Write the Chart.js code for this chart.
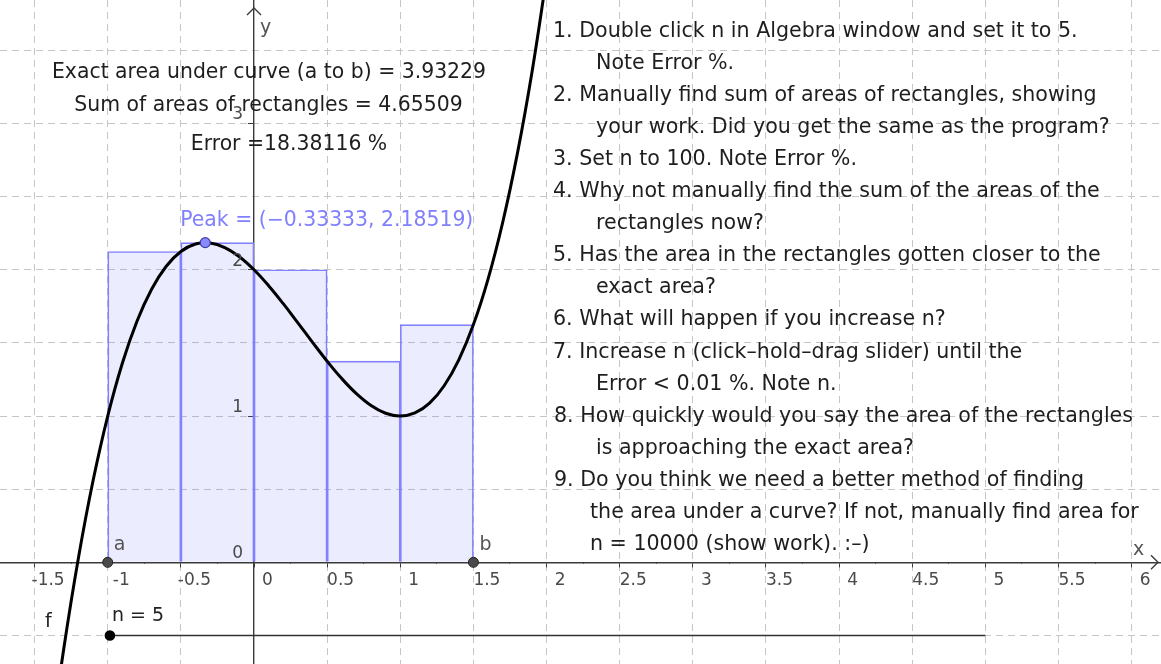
<!DOCTYPE html>
<html>
<head>
<meta charset="utf-8">
<script src="https://cdn.jsdelivr.net/npm/chart.js@4.4.1/dist/chart.umd.min.js"></script>
<style>
  html, body { margin: 0; padding: 0; background: #fff; }
  #wrap { width: 1161px; height: 664px; position: relative; }
</style>
</head>
<body>
<div id="wrap"><canvas id="riemann"></canvas></div>
<script>
// f(x), every 0.1 from -1.4 to 2
const curveX = [-1.4, -1.3, -1.2, -1.1, -1, -0.9, -0.8, -0.7, -0.6, -0.5, -0.4, -0.3, -0.2, -0.1, 0,
  0.1, 0.2, 0.3, 0.4, 0.5, 0.6, 0.7, 0.8, 0.9, 1, 1.1, 1.2, 1.3, 1.4, 1.5, 1.6, 1.7, 1.8, 1.9, 2];
const curveY = [-1.304, -0.587, 0.032, 0.559, 1, 1.361, 1.648, 1.867, 2.024, 2.125, 2.176, 2.183, 2.152, 2.089, 2,
  1.891, 1.768, 1.637, 1.504, 1.375, 1.256, 1.153, 1.072, 1.019, 1, 1.021, 1.088, 1.207, 1.384, 1.625, 1.936, 2.323, 2.792, 3.349, 4];

// upper sum rectangles, n = 5
const rectMid = [-0.75, -0.25, 0.25, 0.75, 1.25];
const rectHeight = [2.125, 2.18519, 2, 1.375, 1.625];

const endX = [-1, 1.5];
const endLabels = ["a", "b"];
const peak = [-0.33333, 2.18519];

const sliderX = [-0.985, 5];
const sliderY = [-0.5, -0.5];

const xTicks = [-1.5, -1, -0.5, 0, 0.5, 1, 1.5, 2, 2.5, 3, 3.5, 4, 4.5, 5, 5.5, 6];
const xTickLabels = ["-1.5", "-1", "-0.5", "0", "0.5", "1", "1.5", "2", "2.5", "3", "3.5", "4", "4.5", "5", "5.5", "6"];
const yTicks = [-0.5, 0, 0.5, 1, 1.5, 2, 2.5, 3, 3.5];
const yTickLabels = ["", "0", "", "1", "", "2", "", "3", ""];

const resultLines = [
  "Exact area under curve (a to b) = 3.93229",
  "Sum of areas of rectangles = 4.65509",
  "Error =18.38116 %"
];
const peakLabel = "Peak = (\u22120.33333, 2.18519)";
const sliderLabel = "n = 5";

const steps = [
  "1. Double click n in Algebra window and set it to 5.",
  "Note Error %.",
  "2. Manually find sum of areas of rectangles, showing",
  "your work. Did you get the same as the program?",
  "3. Set n to 100. Note Error %.",
  "4. Why not manually find the sum of the areas of the",
  "rectangles now?",
  "5. Has the area in the rectangles gotten closer to the",
  "exact area?",
  "6. What will happen if you increase n?",
  "7. Increase n (click\u2013hold\u2013drag slider) until the",
  "Error < 0.01 %. Note n.",
  "8. How quickly would you say the area of the rectangles",
  "is approaching the exact area?",
  "9. Do you think we need a better method of finding",
  "the area under a curve? If not, manually find area for",
  "n = 10000 (show work). :\u2013)"
];
const stepLeft = [553, 596, 553, 596, 553, 553, 596, 553, 596, 553, 553, 596, 554, 596, 554, 590, 590];

const FONT = '"DejaVu Sans", sans-serif';
const GRID = "#c6c6c6";
const AXIS = "#3a3a3a";

function onHalf(v) { return Math.abs(v * 2 - Math.round(v * 2)) < 1e-9; }

const overlay = {
  id: "overlay",
  afterDatasetsDraw(chart) {
    const { ctx, scales: { x, y } } = chart;
    const x0 = x.getPixelForValue(0);
    const y0 = y.getPixelForValue(0);
    ctx.save();

    // axis arrows
    ctx.strokeStyle = AXIS;
    ctx.lineWidth = 1.4;
    ctx.beginPath();
    ctx.moveTo(x0 - 7, 15); ctx.lineTo(x0, 8); ctx.lineTo(x0 + 7, 15);
    ctx.moveTo(1151, y0 - 7); ctx.lineTo(1158, y0); ctx.lineTo(1151, y0 + 7);
    ctx.stroke();

    // y tick labels, left of the axis and a little above each tick
    ctx.font = "17px " + FONT;
    ctx.fillStyle = "#4a4a4a";
    ctx.textAlign = "right";
    ctx.textBaseline = "alphabetic";
    yTicks.forEach((v, i) => {
      if (yTickLabels[i]) ctx.fillText(yTickLabels[i], x0 - 11, y.getPixelForValue(v) - 4);
    });

    ctx.textAlign = "left";
    ctx.font = "19px " + FONT;
    ctx.fillStyle = "#555";
    ctx.fillText("x", 1133, y0 - 7);
    ctx.fillText("y", x0 + 6, 33);
    endX.forEach((v, i) => {
      ctx.fillText(endLabels[i], x.getPixelForValue(v) + 6, y0 - 12);
    });
    ctx.fillStyle = "#222";
    ctx.fillText("f", 45, 627);
    ctx.fillText(sliderLabel, x.getPixelForValue(sliderX[0]) + 2, y.getPixelForValue(sliderY[0]) - 14);

    // results
    ctx.font = "20.4px " + FONT;
    ctx.textAlign = "center";
    ctx.fillStyle = "#1e1e1e";
    const centers = [269, 268.5, 289];
    const bases = [78, 110.5, 150];
    resultLines.forEach((t, i) => ctx.fillText(t, centers[i], bases[i]));

    ctx.textAlign = "left";
    ctx.fillStyle = "#8080ff";
    ctx.fillText(peakLabel, x.getPixelForValue(peak[0]) - 25, y.getPixelForValue(peak[1]) - 17);

    // instructions
    ctx.font = "20.6px " + FONT;
    ctx.fillStyle = "#1e1e1e";
    steps.forEach((t, i) => ctx.fillText(t, stepLeft[i], 36.5 + i * 32.1));

    ctx.restore();
  }
};

new Chart(document.getElementById("riemann"), {
  type: "scatter",
  data: {
    datasets: [
      {
        type: "scatter",
        data: [{ x: peak[0], y: peak[1] }],
        pointRadius: 5,
        pointBackgroundColor: "#8a8aff",
        pointBorderColor: "#3c3ca8",
        pointBorderWidth: 1.2,
        order: 0
      },
      {
        type: "scatter",
        data: endX.map(v => ({ x: v, y: 0 })),
        pointRadius: 5,
        pointBackgroundColor: "#4a4a4a",
        pointBorderColor: "#222",
        pointBorderWidth: 1,
        order: 0
      },
      {
        type: "line",
        data: sliderX.map((v, i) => ({ x: v, y: sliderY[i] })),
        borderColor: "#333",
        borderWidth: 1.6,
        pointRadius: [4.5, 0],
        pointBackgroundColor: "#000",
        pointBorderColor: "#000",
        order: 1
      },
      {
        type: "line",
        data: curveX.map((v, i) => ({ x: v, y: curveY[i] })),
        borderColor: "#000",
        borderWidth: 3,
        tension: 0.4,
        pointRadius: 0,
        order: 1
      },
      {
        type: "bar",
        data: rectMid.map((v, i) => ({ x: v, y: rectHeight[i] })),
        backgroundColor: "rgba(102,102,255,0.12)",
        borderColor: "#8484ff",
        borderWidth: 1,
        barPercentage: 1,
        categoryPercentage: 1,
        order: 2
      }
    ]
  },
  options: {
    responsive: true,
    maintainAspectRatio: false,
    animation: false,
    events: [],
    layout: { padding: 0, autoPadding: false },
    plugins: { legend: { display: false }, tooltip: { enabled: false } },
    scales: {
      x: {
        type: "linear",
        min: -1.7364,
        max: 6.2004,
        offset: false,
        position: { y: 0 },
        afterBuildTicks: s => { s.ticks = xTicks.map(v => ({ value: v })); },
        grid: {
          offset: false,
          color: c => (c.tick && c.tick.value === 0 ? "rgba(0,0,0,0)" : GRID),
          lineWidth: 1,
          tickLength: 4,
          tickColor: AXIS
        },
        border: { display: true, color: AXIS, width: 1.4, dash: [7, 5] },
        ticks: {
          autoSkip: false,
          maxRotation: 0,
          labelOffset: 13.5,
          padding: 4,
          color: "#4a4a4a",
          font: { family: FONT, size: 17 },
          callback: (v, i) => xTickLabels[i]
        }
      },
      xMinor: {
        type: "linear",
        axis: "x",
        min: -1.7364,
        max: 6.2004,
        offset: false,
        position: { y: 0 },
        ticks: { stepSize: 0.25, includeBounds: false, display: false, autoSkip: false },
        grid: {
          drawOnChartArea: false,
          tickLength: 2,
          tickColor: c => (c.tick && onHalf(c.tick.value) ? "rgba(0,0,0,0)" : "#777")
        },
        border: { display: false }
      },
      y: {
        type: "linear",
        min: -0.695,
        max: 3.844,
        position: { x: 0 },
        afterBuildTicks: s => { s.ticks = yTicks.map(v => ({ value: v })); },
        grid: {
          color: c => (c.tick && c.tick.value === 0 ? "rgba(0,0,0,0)" : GRID),
          lineWidth: 1,
          tickLength: 5,
          tickColor: c => (c.tick && Number.isInteger(c.tick.value) ? AXIS : "rgba(0,0,0,0)")
        },
        border: { display: true, color: AXIS, width: 1.4, dash: [7, 5] },
        ticks: { display: false }
      }
    }
  },
  plugins: [overlay]
});
</script>
</body>
</html>
